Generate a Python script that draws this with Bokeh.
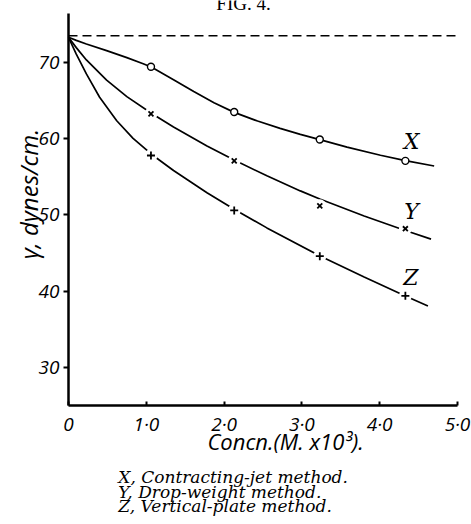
import math
from bokeh.plotting import figure
from bokeh.models import Label, FixedTicker, Range1d
from bokeh.embed import file_html
from bokeh.resources import INLINE

# ---- data ----
conc = [1.06, 2.13, 3.23, 4.33]
gamma_X = [69.45, 63.5, 59.9, 57.1]
gamma_Y = [63.25, 57.1, 51.2, 48.2]
gamma_Z = [57.8, 50.6, 44.6, 39.4]
gamma_water = 73.5

# traced smooth curves
curve_X_x = [0, 0.10, 0.23, 0.49, 0.75, 0.96, 1.07, 1.35, 1.61, 1.87, 2.13, 2.43, 2.72, 2.98, 3.23, 3.58, 4.01, 4.33, 4.70]
curve_X_y = [73.3, 72.9, 72.43, 71.55, 70.64, 69.84, 69.37, 67.75, 66.19, 64.73, 63.46, 62.32, 61.36, 60.58, 59.88, 58.9, 57.83, 57.13, 56.43]
curve_Y_x = [0, 0.10, 0.23, 0.49, 0.75, 1.07, 1.35, 1.78, 2.13, 2.55, 2.98, 3.23, 3.80, 4.32, 4.66]
curve_Y_y = [73.3, 71.95, 70.33, 67.68, 65.52, 63.31, 61.55, 59.05, 57.2, 55.14, 53.16, 52.09, 49.87, 48.0, 46.84]
curve_Z_x = [0, 0.10, 0.23, 0.40, 0.62, 0.83, 1.07, 1.35, 1.78, 2.14, 2.55, 3.24, 3.80, 4.33, 4.62]
curve_Z_y = [73.3, 71.1, 68.5, 65.44, 62.36, 60.05, 57.94, 55.84, 52.92, 50.69, 48.31, 44.58, 41.86, 39.37, 38.07]

x_ticks = [0, 1, 2, 3, 4, 5]
x_tick_labels = ["0", "1·0", "2·0", "3·0", "4·0", "5·0"]
y_ticks = [30, 40, 50, 60, 70]
x_bounds = (0, 5.0)
y_bounds = (25, 76.4)

curve_names = ["X", "Y", "Z"]
curve_name_pos = [(4.41, 59.6), (4.41, 50.5), (4.40, 41.8)]
captions = ["X, Contracting-jet method.", "Y, Drop-weight method.", "Z, Vertical-plate method."]

# frame covers the whole canvas; axes are placed at fixed data locations
p = figure(width=471, height=524, output_backend="svg", toolbar_location=None,
           x_range=Range1d(-0.874, 5.18), y_range=Range1d(9.41, 78.13),
           min_border=0)
p.background_fill_color = "white"
p.border_fill_color = "white"
p.outline_line_color = None
p.xgrid.visible = False
p.ygrid.visible = False

sans = "Open Sans"
serif = "DejaVu Serif"

for ax in (p.xaxis[0], p.yaxis[0]):
    ax.axis_line_width = 2.5
    ax.axis_line_color = "black"
    ax.major_tick_line_color = "black"
    ax.major_tick_line_width = 2
    ax.minor_tick_line_color = None
    ax.major_label_text_font = sans
    ax.major_label_text_font_style = "italic"
    ax.major_label_text_font_size = "19px"
    ax.major_label_text_color = "black"

p.xaxis.fixed_location = y_bounds[0]
p.xaxis.bounds = x_bounds
p.xaxis.ticker = FixedTicker(ticks=x_ticks)
p.xaxis.major_label_overrides = {t: l for t, l in zip(x_ticks, x_tick_labels)}
p.xaxis.major_tick_in = 4
p.xaxis.major_tick_out = 0
p.xaxis.major_label_standoff = 5

p.yaxis.fixed_location = x_bounds[0]
p.yaxis.bounds = y_bounds
p.yaxis.ticker = FixedTicker(ticks=y_ticks)
p.yaxis.major_tick_in = 0
p.yaxis.major_tick_out = 5
p.yaxis.major_label_standoff = 4

# dashed line: surface tension of pure water
p.line(list(x_bounds), [gamma_water, gamma_water], line_color="black",
       line_width=1.6, line_dash="9 5")

# curves
for cx, cy in ((curve_X_x, curve_X_y), (curve_Y_x, curve_Y_y), (curve_Z_x, curve_Z_y)):
    p.line(cx, cy, line_color="black", line_width=1.7)

# markers
p.scatter(conc, gamma_X, marker="circle", size=7, fill_color="white", line_color="black", line_width=1.4)
p.scatter(conc, gamma_Y, marker="circle", size=13, fill_color="white", line_color=None)
p.scatter(conc, gamma_Y, marker="x", size=7, line_color="black", line_width=1.8)
p.scatter(conc, gamma_Z, marker="circle", size=13, fill_color="white", line_color=None)
p.scatter(conc, gamma_Z, marker="cross", size=8, line_color="black", line_width=1.8)

for name, (lx, ly) in zip(curve_names, curve_name_pos):
    p.add_layout(Label(x=lx, y=ly, text=name, text_font=serif, text_font_style="italic",
                       text_font_size="22px", text_align="center", text_baseline="middle",
                       text_color="black"))

# axis titles
p.add_layout(Label(x=2.79, y=20.4, text="Concn.(M. x10³).", text_font=sans, text_font_style="italic",
                   text_font_size="22px", text_align="center", text_baseline="middle", text_color="black"))
p.add_layout(Label(x=-0.51, y=52.75, text="γ, dynes/cm.", text_font=sans, text_font_style="italic",
                   text_font_size="24px", text_align="center", text_baseline="middle",
                   angle=math.pi / 2, text_color="black"))

# figure caption
cap_y = [15.6, 13.68, 11.82]
for txt, cy in zip(captions, cap_y):
    p.add_layout(Label(x=0.64, y=cy, text=txt, text_font=serif, text_font_style="italic",
                       text_font_size="17px", text_align="left", text_baseline="middle",
                       text_color="black"))

# title (partly cut off at the top edge, as in the reference)
p.add_layout(Label(x=2.25, y=77.75, text="FIG. 4.", text_font="Liberation Serif",
                   text_font_size="19px", text_align="center", text_baseline="alphabetic",
                   text_color="black"))

open("out.html", "w").write(file_html(p, INLINE))
